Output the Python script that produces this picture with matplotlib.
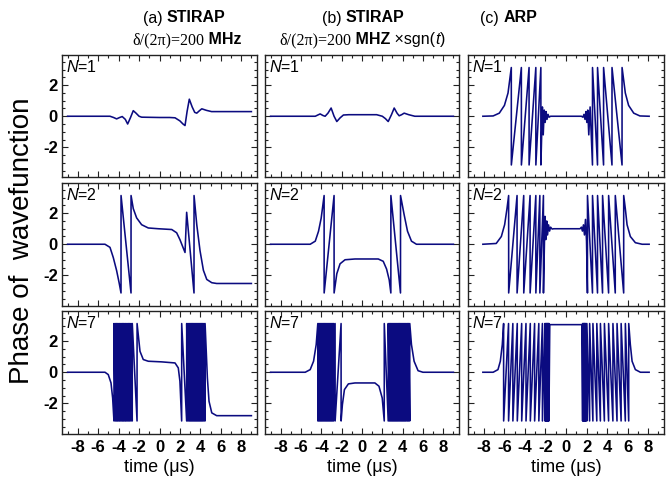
import numpy as np
import matplotlib.pyplot as plt
from matplotlib.ticker import MultipleLocator
from matplotlib.offsetbox import TextArea, HPacker, AnnotationBbox

plt.rcParams['font.family'] = ['Liberation Sans', 'DejaVu Sans']
plt.rcParams['mathtext.fontset'] = 'custom'
plt.rcParams['mathtext.it'] = 'Liberation Sans:italic'
plt.rcParams['mathtext.rm'] = 'Liberation Sans'

PI = np.pi

##################
## data (time in us, phase in rad)
## *_w lists are the times where the phase wraps between +pi and -pi

# (a) STIRAP, N=1
a1_t = [-9, -4.85, -4.5, -4.2, -3.9, -3.65, -3.35, -3.12, -2.85, -2.57, -2.3, -2.0, -1.75, 0, 1.0,
        1.52, 2.0, 2.3, 2.5, 2.7, 2.92, 3.2, 3.45, 3.65, 3.9, 4.14, 4.6, 5.1, 9]
a1_y = [0, 0, -0.08, -0.17, -0.08, -0.02, -0.2, -0.5, -0.1, 0.36, 0.2, 0.0, -0.06, -0.08, -0.08,
        -0.1, -0.3, -0.5, -0.6, 0.3, 1.1, 0.6, 0.25, 0.2, 0.35, 0.48, 0.38, 0.3, 0.3]

# (a) STIRAP, N=2
a2_t1 = [-9, -5.34, -4.85, -4.53, -4.2, -3.95]
a2_y1 = [0, 0, -0.2, -0.85, -1.7, -2.5]
a2_w1 = [-3.77, -2.79]
a2_t2 = [-2.57, -2.24, -1.75, -1.1, -0.12, 1.2, 1.68, 2.0, 2.3, 2.5, 2.66]
a2_y2 = [2.3, 1.7, 1.26, 1.05, 1.0, 0.95, 0.74, 0.3, -0.2, -0.53, 2.06]
a2_w2 = [3.38]
a2_t3 = [3.65, 3.97, 4.3, 4.63, 5.12, 5.6, 9]
a2_y3 = [1.26, -0.42, -1.68, -2.27, -2.48, -2.53, -2.53]

# (a) STIRAP, N=7
a7_t1 = [-9, -5.34, -5.02, -4.75, -4.59]
a7_y1 = [0, 0, -0.15, -0.69, -1.66]
a7_w1 = [-4.46, -4.33, -4.21, -4.1, -3.98, -3.87, -3.75, -3.63, -3.52, -3.4, -3.29, -3.17,
         -3.05, -2.93, -2.8, -2.67, -2.2]
a7_t2 = [-1.91, -1.59, -1.1, 0.2, 1.52, 1.84, 2.0]
a7_y2 = [1.35, 0.82, 0.71, 0.67, 0.6, 0.28, -0.58]
a7_w2 = [2.17, 2.66, 2.78, 2.9, 3.01, 3.12, 3.23, 3.34, 3.45, 3.56, 3.67, 3.78, 3.89, 4.0,
         4.11, 4.22, 4.34, 4.46]
a7_t3 = [4.69, 4.85, 5.12, 5.6, 9]
a7_y3 = [-0.37, -1.87, -2.62, -2.8, -2.8]

# (b) STIRAP x sgn(t), N=1
b1_t = [-9, -4.6, -4.35, -4.12, -3.85, -3.63, -3.35, -3.04, -2.75, -2.48, -2.15, -1.83, -1.3,
        1.44, 2.0, 2.3, 2.58, 2.9, 3.17, 3.45, 3.66, 3.9, 4.15, 4.6, 5.2, 9]
b1_y = [0, 0, 0.08, 0.15, 0.05, 0.0, 0.2, 0.53, 0.0, -0.34, -0.1, 0.08, 0.1,
        0.1, 0.0, -0.15, -0.34, 0.1, 0.53, 0.2, 0.03, 0.1, 0.2, 0.1, 0.0, 0.0]

# (b) N=2
b2_t1 = [-9, -5.1, -4.6, -4.28, -4.02]
b2_y1 = [0, 0, 0.2, 0.84, 1.68]
b2_w1 = [-3.73, -2.75]
b2_t2 = [-2.48, -2.16, -1.67, -0.69, 1.6, 2.09, 2.42, 2.68]
b2_y2 = [-1.9, -1.26, -1.0, -0.95, -0.95, -1.1, -1.6, -2.3]
b2_w2 = [2.84, 3.79]
b2_t3 = [4.15, 4.48, 4.87, 5.36, 9]
b2_y3 = [1.9, 0.84, 0.2, 0, 0]

# (b) N=7
b7_t1 = [-9, -5.59, -5.1, -4.77, -4.51]
b7_y1 = [0, 0, 0.17, 0.71, 1.78]
b7_w1 = [-4.35, -4.24, -4.13, -4.02, -3.91, -3.8, -3.69, -3.58, -3.47, -3.36, -3.25, -3.14,
         -3.03, -2.92, -2.81, -2.65, -2.06]
b7_t2 = [-1.93, -1.73, -1.34, -0.69, 1.27, 1.67, 1.99]
b7_y2 = [-2.09, -1.12, -0.75, -0.69, -0.69, -0.9, -1.66]
b7_w2 = [2.19, 2.58, 2.7, 2.81, 2.92, 3.03, 3.14, 3.25, 3.36, 3.47, 3.58, 3.69, 3.8, 3.91,
         4.02, 4.13, 4.24, 4.35, 4.47, 4.58, 4.7]
b7_t3 = [4.87, 5.13, 5.52, 6.0, 9]
b7_y3 = [1.78, 0.71, 0.1, 0, 0]

# (c) ARP, N=1
c1_t1 = [-8.1, -7.1, -6.5, -6.0, -5.65]
c1_y1 = [0, 0.02, 0.2, 0.7, 1.5]
c1_w1 = [-5.33, -4.35, -3.6, -2.94, -2.45]
c1_t2 = [-2.3, -2.22, -2.12, -2.03, -1.94, -1.85, -1.75, -1.65, -1.5,
         1.5, 1.65, 1.75, 1.85, 1.94, 2.03, 2.12, 2.22, 2.35]
c1_y2 = [0.6, -1.2, 0.4, -0.4, 0.3, -0.2, 0.12, -0.06, 0,
         0, -0.06, 0.12, -0.2, 0.3, -0.4, 0.4, -1.2, 0.6]
c1_w2 = [2.58, 3.07, 3.66, 4.48, 5.46]
c1_t3 = [5.78, 6.1, 6.6, 7.2, 8.1]
c1_y3 = [1.5, 0.7, 0.2, 0.02, 0]

# (c) N=2
c2_t1 = [-8.1, -6.8, -6.3, -5.98, -5.75]
c2_y1 = [0, 0.05, 0.5, 1.26, 2.3]
c2_w1 = [-5.59, -4.77, -4.12, -3.5, -2.94, -2.55, -2.2]
c2_t2 = [-2.05, -1.97, -1.88, -1.8, -1.7, -1.6, -1.5, -1.35, -1.2,
         1.37, 1.5, 1.6, 1.7, 1.8, 1.9, 2.0]
c2_y2 = [1.8, 0.3, 1.5, 0.6, 1.25, 0.85, 1.1, 0.98, 1.0,
         1.0, 1.1, 0.85, 1.25, 0.6, 1.6, 0.2]
c2_w2 = [2.09, 2.58, 3.07, 3.56, 4.15, 4.8, 5.62]
c2_t3 = [5.78, 5.95, 6.27, 6.76, 7.42, 8.1]
c2_y3 = [2.3, 1.26, 0.5, 0.1, 0, 0]

# (c) N=7
c7_t1 = [-8.1, -7.1, -6.63, -6.4, -6.21]
c7_y1 = [0, 0, 0.17, 0.71, 1.78]
c7_w1 = [-6.08, -5.6, -5.18, -4.75, -4.32, -3.9, -3.48, -3.06, -2.65, -2.3, -2.06, -1.98,
         -1.91, -1.85, -1.79, -1.73, -1.67]
c7_t2 = [-1.58, 1.54]
c7_y2 = [3.07, 3.07]
c7_w2 = [1.62, 1.68, 1.74, 1.8, 1.86, 1.93, 2.03, 2.3, 2.62, 3.0, 3.35, 3.74, 4.15, 4.57,
         4.97, 5.37, 5.78, 6.11]
c7_t3 = [6.27, 6.44, 6.76, 7.25, 8.1]
c7_y3 = [1.78, 0.71, 0.17, 0, 0]


def saw(wraps, rising):
    # rising phase: +pi then jump to -pi ; falling phase: -pi then jump to +pi
    t, y = [], []
    for w in wraps:
        t += [w, w + 0.004]
        y += [PI, -PI] if rising else [-PI, PI]
    return t, y


def join(*parts):
    t, y = [], []
    for pt, py in parts:
        t += list(pt)
        y += list(py)
    return t, y


curves = {
    (0, 0): join((a1_t, a1_y)),
    (1, 0): join((a2_t1, a2_y1), saw(a2_w1, False), (a2_t2, a2_y2), saw(a2_w2, False), (a2_t3, a2_y3)),
    (2, 0): join((a7_t1, a7_y1), saw(a7_w1, False), (a7_t2, a7_y2), saw(a7_w2, False), (a7_t3, a7_y3)),
    (0, 1): join((b1_t, b1_y)),
    (1, 1): join((b2_t1, b2_y1), saw(b2_w1, True), (b2_t2, b2_y2), saw(b2_w2, False), (b2_t3, b2_y3)),
    (2, 1): join((b7_t1, b7_y1), saw(b7_w1, True), (b7_t2, b7_y2), saw(b7_w2, False), (b7_t3, b7_y3)),
    (0, 2): join((c1_t1, c1_y1), saw(c1_w1, True), (c1_t2, c1_y2), saw(c1_w2, False), (c1_t3, c1_y3)),
    (1, 2): join((c2_t1, c2_y1), saw(c2_w1, True), (c2_t2, c2_y2), saw(c2_w2, False), (c2_t3, c2_y3)),
    (2, 2): join((c7_t1, c7_y1), saw(c7_w1, True), (c7_t2, c7_y2), saw(c7_w2, False), (c7_t3, c7_y3)),
}

n_labels = ['1', '2', '7']
x_ticks = [-8, -6, -4, -2, 0, 2, 4, 6, 8]
y_ticks = [-2, 0, 2]

###################
## layout (pixels of a 672x479 figure)
W, H = 672, 479
lefts = [62, 265, 468]
widths = [195, 194, 196]
tops = [55, 183, 311]
height = 122.5

fig = plt.figure(figsize=(W / 100, H / 100), dpi=100)

for r in range(3):
    for c in range(3):
        ax = fig.add_axes([lefts[c] / W, 1 - (tops[r] + height) / H, widths[c] / W, height / H])
        t, y = curves[(r, c)]
        ax.plot(t, y, color='#0b0b80', lw=1.15)
        ax.set_xlim(-9.55, 9.55)
        ax.set_ylim(-3.95, 3.95)
        ax.set_xticks(x_ticks)
        ax.set_yticks(y_ticks)
        ax.xaxis.set_minor_locator(MultipleLocator(1))
        ax.yaxis.set_minor_locator(MultipleLocator(0.5))
        ax.tick_params(which='both', direction='in', top=True, right=True, width=0.8, color='#222222')
        ax.tick_params(which='major', length=4)
        ax.tick_params(which='minor', length=2.5)
        ax.tick_params(axis='x', pad=5)
        ax.tick_params(axis='y', pad=3)
        if r == 2:
            ax.set_xticklabels([str(v) for v in x_ticks], fontweight='bold', fontsize=12)
        else:
            ax.set_xticklabels([])
        if c == 0:
            ax.set_yticklabels([str(v) for v in y_ticks], fontweight='bold', fontsize=12)
        else:
            ax.set_yticklabels([])
        for s in ax.spines.values():
            s.set_linewidth(1.0)
            s.set_color('#222222')
        ax.text(0.02, 0.965, '$N$=' + n_labels[r], transform=ax.transAxes, fontsize=11.5,
                va='top', ha='left')

# x labels
for c in range(3):
    fig.text((lefts[c] + widths[c] / 2) / W, 1 - 467 / H, 'time (μs)', fontsize=13,
             ha='center', va='center')

fig.text(22 / W, 1 - 241 / H, 'Phase of  wavefunction', fontsize=20, rotation=90,
         ha='center', va='center')


def title(parts, x, y):
    boxes = [TextArea(s, textprops=p) for s, p in parts]
    pack = HPacker(children=boxes, align='baseline', pad=0, sep=0)
    ab = AnnotationBbox(pack, (x / W, 1 - y / H), xycoords='figure fraction', frameon=False,
                        box_alignment=(0.5, 0.5), pad=0)
    fig.add_artist(ab)


reg = dict(fontsize=11.5, family='Liberation Sans')
bold = dict(fontsize=11.5, family='Liberation Sans', fontweight='bold')
serif = dict(fontsize=11.5, family='Liberation Serif')
ital = dict(fontsize=11.5, family='Liberation Sans', fontstyle='italic')

title([('(a) ', reg), ('STIRAP', bold)], 184, 18)
title([('δ/(2π)=200', serif), (' MHz', bold)], 187, 40)
title([('(b) ', reg), ('STIRAP', bold)], 363, 18)
title([('δ/(2π)=200', serif), (' MHZ', bold), (' ×sgn(', reg), ('t', ital), (')', reg)], 362, 40)
title([('(c) ', reg), ('ARP', bold)], 509, 18)

plt.savefig('out.png', dpi=100)
